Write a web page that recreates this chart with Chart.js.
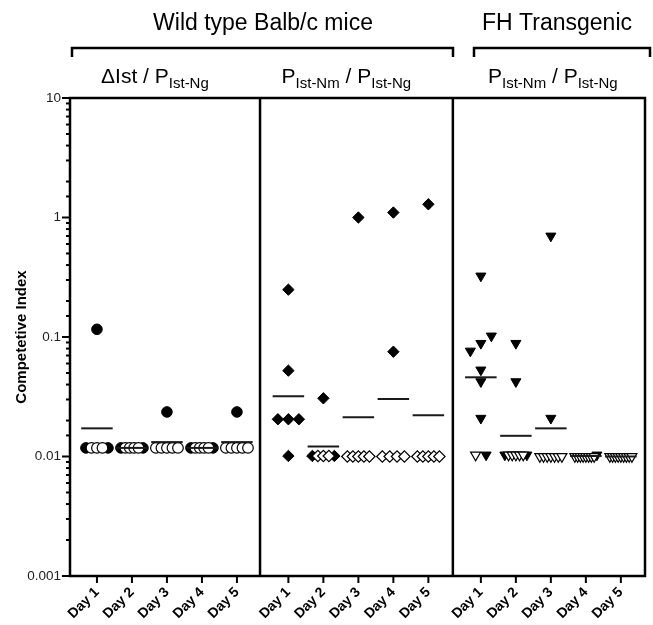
<!DOCTYPE html>
<html>
<head>
<meta charset="utf-8">
<script src="https://cdn.jsdelivr.net/npm/chart.js@4.4.1/dist/chart.umd.min.js"></script>
<style>
    html, body { margin: 0; padding: 0; background: #fff; }
</style>
</head>
<body>
<canvas id="chart" width="653" height="625"></canvas>
<script>
// Categories and tick labels
const dayLabels = ['Day 1', 'Day 2', 'Day 3', 'Day 4', 'Day 5'];
const yTickValues = [0.001, 0.01, 0.1, 1, 10];
const yTickLabels = ['0.001', '0.01', '0.1', '1', '10'];
const groupTitles = ['Wild type Balb/c mice', 'FH Transgenic'];
const yTitle = 'Competetive Index';

// Wild type, ΔIst / PIst-Ng: filled = recovered, open = at detection limit
const deltaFilled = [
    [0.116, 0.0118, 0.0118],
    [0.0118, 0.0118],
    [0.0236],
    [0.0118, 0.0118],
    [0.0236]
];
const deltaOpen = [
    [0.0118, 0.0118, 0.0118],
    [0.0118, 0.0118, 0.0118, 0.0118],
    [0.0118, 0.0118, 0.0118, 0.0118, 0.0118],
    [0.0118, 0.0118, 0.0118, 0.0118],
    [0.0118, 0.0118, 0.0118, 0.0118, 0.0118]
];
const deltaMean = [0.0172, 0.0118, 0.0132, 0.0118, 0.0132];

// Wild type, PIst-Nm / PIst-Ng
const nmFilled = [
    [0.249, 0.0523, 0.0205, 0.0205, 0.0205, 0.0101],
    [0.0307, 0.0101, 0.0101],
    [1.0],
    [1.10, 0.0753],
    [1.29]
];
const nmOpen = [
    [],
    [0.0101, 0.0101, 0.0101],
    [0.01, 0.01, 0.01, 0.01, 0.01],
    [0.01, 0.01, 0.01, 0.01],
    [0.01, 0.01, 0.01, 0.01, 0.01]
];
const nmMean = [0.032, 0.0121, 0.0213, 0.0303, 0.0221];

// FH transgenic, PIst-Nm / PIst-Ng
const fhFilled = [
    [0.324, 0.102, 0.0885, 0.0763, 0.053, 0.0423, 0.0209, 0.0103],
    [0.0885, 0.0423, 0.0103, 0.0103],
    [0.70, 0.0209],
    [0.0103],
    []
];
const fhOpen = [
    [0.0103],
    [0.0103, 0.0103, 0.0103, 0.0103, 0.0103],
    [0.01, 0.01, 0.01, 0.01, 0.01, 0.01, 0.01],
    [0.01, 0.01, 0.01, 0.01, 0.01, 0.01, 0.01, 0.01],
    [0.01, 0.01, 0.01, 0.01, 0.01, 0.01, 0.01, 0.01, 0.01]
];
const fhMean = [0.046, 0.0149, 0.0172, 0.0101, 0.0100];

// Layout of the x axis (one unit = distance between two days)
const panelStarts = [0, 5.47, 10.97];
const panelDividers = [4.66, 10.17];
const xMin = -0.77, xMax = 15.66;
const FONT = '"Liberation Sans", Arial, Helvetica, sans-serif';

const panels = [
    { filled: deltaFilled, open: deltaOpen, mean: deltaMean, style: 'circle', radius: 5.3, rotation: 0,
      sub: [['ΔIst / P', 0], ['Ist-Ng', 1]], shift: -12 },
    { filled: nmFilled, open: nmOpen, mean: nmMean, style: 'rectRot', radius: 5.7, rotation: 0,
      sub: [['P', 0], ['Ist-Nm', 1], [' / P', 0], ['Ist-Ng', 1]], shift: -12 },
    { filled: fhFilled, open: fhOpen, mean: fhMean, style: 'triangle', radius: 5.8, rotation: 180,
      sub: [['P', 0], ['Ist-Nm', 1], [' / P', 0], ['Ist-Ng', 1]], shift: 2 }
];

// Spread points of nearly equal value sideways, like a scatter dot plot
function placeDay(filledVals, openVals, center) {
    const pts = filledVals.map(v => ({ v, open: false }))
        .concat(openVals.map(v => ({ v, open: true })));
    pts.sort((a, b) => a.v - b.v);
    const groups = [];
    pts.forEach(p => {
        const g = groups[groups.length - 1];
        if (g && Math.log10(p.v) - Math.log10(g[g.length - 1].v) < 0.07) g.push(p);
        else groups.push([p]);
    });
    const out = [];
    groups.forEach(g => {
        const f = g.filter(p => !p.open);
        const o = g.filter(p => p.open);
        const k = Math.floor(f.length / 2);
        const ordered = f.slice(0, k).concat(o, f.slice(k));
        const n = ordered.length;
        const step = n > 1 ? Math.min(0.3, 0.63 / (n - 1)) : 0;
        ordered.forEach((p, i) => {
            out.push({ x: center + (i - (n - 1) / 2) * step, y: p.v, open: p.open });
        });
    });
    return out;
}

const tickPositions = [];
const datasets = [];

panels.forEach((panel, pi) => {
    const filledPts = [];
    const openPts = [];
    dayLabels.forEach((label, d) => {
        const center = panelStarts[pi] + d;
        tickPositions.push(center);
        placeDay(panel.filled[d], panel.open[d], center).forEach(p => {
            (p.open ? openPts : filledPts).push({ x: p.x, y: p.y });
        });
        // geometric mean line
        datasets.push({
            type: 'line',
            data: [{ x: center - 0.45, y: panel.mean[d] }, { x: center + 0.45, y: panel.mean[d] }],
            borderColor: '#1a1a1a',
            borderWidth: 2,
            pointRadius: 0
        });
    });
    datasets.push({
        type: 'scatter',
        data: openPts,
        pointStyle: panel.style,
        rotation: panel.rotation,
        pointRadius: panel.radius,
        backgroundColor: '#fff',
        borderColor: '#000',
        borderWidth: 1.2
    });
    datasets.push({
        type: 'scatter',
        data: filledPts,
        pointStyle: panel.style,
        rotation: panel.rotation,
        pointRadius: panel.radius,
        backgroundColor: '#000',
        borderColor: '#000',
        borderWidth: 1
    });
});

function isDecade(v) {
    const e = Math.log10(v);
    return Math.abs(e - Math.round(e)) < 1e-6;
}

function decadeLabel(v) {
    const i = yTickValues.findIndex(t => Math.abs(Math.log10(t) - Math.log10(v)) < 1e-6);
    return i >= 0 ? yTickLabels[i] : '';
}

// Draw text with subscript parts, centred on cx
function drawSubText(ctx, parts, cx, baseline) {
    const big = '21px ' + FONT;
    const small = '15px ' + FONT;
    let w = 0;
    parts.forEach(([t, s]) => { ctx.font = s ? small : big; w += ctx.measureText(t).width; });
    let x = cx - w / 2;
    ctx.textAlign = 'left';
    ctx.textBaseline = 'alphabetic';
    parts.forEach(([t, s]) => {
        ctx.font = s ? small : big;
        ctx.fillText(t, x, s ? baseline + 5 : baseline);
        x += ctx.measureText(t).width;
    });
}

const framePlugin = {
    id: 'frame',
    afterDraw(chart) {
        const { ctx, chartArea: a, scales: { x, y } } = chart;
        const line = (x1, y1, x2, y2) => {
            ctx.beginPath(); ctx.moveTo(x1, y1); ctx.lineTo(x2, y2); ctx.stroke();
        };
        ctx.save();
        ctx.strokeStyle = '#000';
        ctx.fillStyle = '#000';
        ctx.lineWidth = 2.5;
        ctx.strokeRect(a.left, a.top, a.right - a.left, a.bottom - a.top);
        panelDividers.forEach(v => {
            const px = x.getPixelForValue(v);
            line(px, a.top, px, a.bottom);
        });

        // outward tick marks
        ctx.lineWidth = 2;
        y.ticks.forEach(t => {
            const py = y.getPixelForValue(t.value);
            line(a.left - (isDecade(t.value) ? 8 : 4), py, a.left, py);
        });
        x.ticks.forEach(t => {
            const px = x.getPixelForValue(t.value);
            line(px, a.bottom, px, a.bottom + 7);
        });

        // group titles and brackets
        ctx.font = '23px ' + FONT;
        ctx.textAlign = 'center';
        ctx.textBaseline = 'alphabetic';
        ctx.fillText(groupTitles[0], 263, 30);
        ctx.fillText(groupTitles[1], 557, 30);
        ctx.lineWidth = 2.5;
        [[72, 453], [474, 650]].forEach(([l, r]) => {
            ctx.beginPath();
            ctx.moveTo(l, 57); ctx.lineTo(l, 48); ctx.lineTo(r, 48); ctx.lineTo(r, 57);
            ctx.stroke();
        });

        panels.forEach((panel, pi) => {
            const cx = x.getPixelForValue(panelStarts[pi] + 2) + panel.shift;
            drawSubText(ctx, panel.sub, cx, 83);
        });
        ctx.restore();
    }
};

new Chart(document.getElementById('chart'), {
    data: { datasets: datasets },
    options: {
        responsive: false,
        animation: false,
        devicePixelRatio: 1,
        layout: { padding: { top: 98, right: 8, left: 0, bottom: 0 } },
        plugins: { legend: { display: false }, tooltip: { enabled: false } },
        scales: {
            x: {
                type: 'linear',
                min: xMin,
                max: xMax,
                afterBuildTicks: s => { s.ticks = tickPositions.map(v => ({ value: v })); },
                afterFit: s => { s.height = 49; },
                grid: { display: false, drawTicks: false },
                border: { display: false },
                ticks: {
                    autoSkip: false,
                    maxRotation: 45,
                    minRotation: 45,
                    padding: 8,
                    color: '#000',
                    font: { family: FONT, size: 14, weight: 'bold' },
                    callback: (v, i) => dayLabels[i % dayLabels.length]
                }
            },
            y: {
                type: 'logarithmic',
                min: 0.001,
                max: 10,
                afterFit: s => { s.width = 70; },
                grid: { display: false, drawTicks: false },
                border: { display: false },
                ticks: {
                    autoSkip: false,
                    padding: 9,
                    color: '#222',
                    font: { family: FONT, size: 13.5 },
                    callback: v => decadeLabel(v)
                },
                title: {
                    display: true,
                    text: yTitle,
                    color: '#000',
                    font: { family: FONT, size: 15, weight: 'bold' },
                    padding: { top: 13, bottom: 0 }
                }
            }
        }
    },
    plugins: [framePlugin]
});
</script>
</body>
</html>
